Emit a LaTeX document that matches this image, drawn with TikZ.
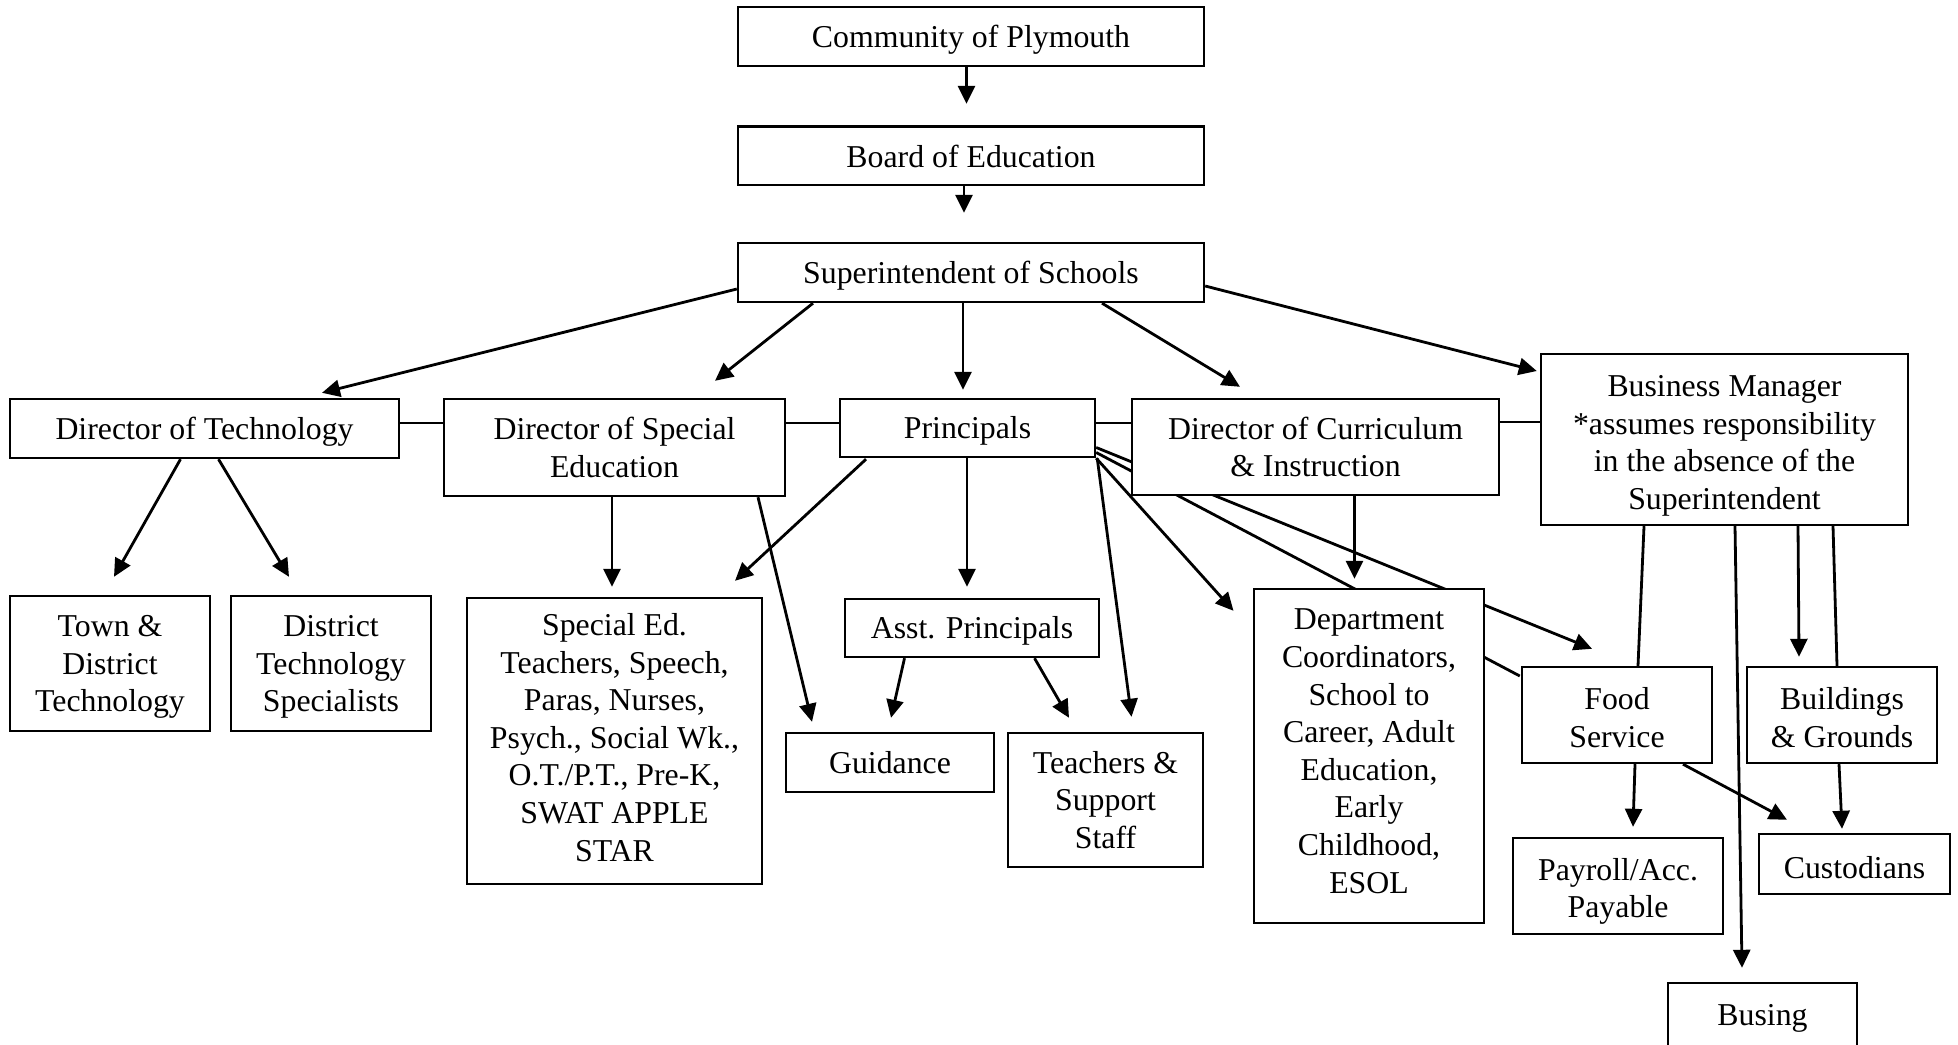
\documentclass[tikz,border=0pt]{standalone}
\usepackage{fontspec}
\setmainfont{Liberation Serif}
\usetikzlibrary{arrows.meta}
\pgfdeclarelayer{bg}
\pgfsetlayers{bg,main}
\newcommand{\hpad}[1]{\rule{0pt}{#1}}
\newcommand{\dpad}[1]{\rule[-#1]{0pt}{#1}}
\tikzset{
  bx/.style={draw, line width=1.2pt, fill=white, inner sep=0pt, align=center,
    font=\fontsize{15.9pt}{18.8pt}\selectfont},
  ln/.style={line width=1.4pt},
  arr/.style={line width=1.4pt, -{Triangle[length=9pt,width=8.5pt]}}
}
\begin{document}
\begin{tikzpicture}[x=0.5pt,y=-0.5pt]
\useasboundingbox (0,0) rectangle (1958,1044);
% nodes
\node[bx, minimum width=233pt, minimum height=29.5pt] (comm) at (971,36.5) {\smash{Community of Plymouth}\hpad{10.9pt}};
\node[bx, minimum width=233pt, minimum height=29.25pt] (board) at (971,155.75) {\hpad{12pt}Board of Education};
\node[bx, minimum width=233pt, minimum height=29.5pt] (sup) at (971,272.5) {\smash{Superintendent of Schools}\hpad{10.9pt}};
\node[bx, minimum width=194.5pt, minimum height=29.5pt] (dtech) at (204.5,428.5) {\smash{Director of Technology}\hpad{10.9pt}};
\node[bx, minimum width=170.5pt, minimum height=48.5pt] (dsped) at (614.5,447.5) {Director of Special\\Education};
\node[bx, minimum width=127.5pt, minimum height=29pt] (prin) at (967.5,428) {\smash{Principals}\hpad{10.9pt}};
\node[bx, minimum width=183.5pt, minimum height=48pt] (dcurr) at (1315.5,447) {Director of Curriculum\\\& Instruction};
\node[bx, minimum width=183.5pt, minimum height=85.5pt] (bus) at (1724.5,439.5) {\hpad{13.6pt}Business Manager\\*assumes responsibility\\in the absence of the\\\smash{Superintendent}};
\node[bx, minimum width=100pt, minimum height=67.5pt] (town) at (110,663.5) {Town \&\\District\\\smash{Technology}};
\node[bx, minimum width=100pt, minimum height=67.5pt] (dist) at (331,663.5) {District\\Technology\\\smash{Specialists}};
\node[bx, minimum width=147.5pt, minimum height=143pt] (sped) at (614.5,741) {Special Ed.\\Teachers, Speech,\\Paras, Nurses,\\Psych., Social Wk.,\\O.T./P.T., Pre-K,\\SWAT APPLE\\STAR\dpad{3.8pt}};
\node[bx, minimum width=127pt, minimum height=29pt] (asst) at (972,628) {\smash{Asst. Principals}\hpad{10.9pt}};
\node[bx, minimum width=104pt, minimum height=29.5pt] (guid) at (890,762.5) {Guidance};
\node[bx, minimum width=97.5pt, minimum height=67pt] (teach) at (1105.5,800) {Teachers \&\\Support\\Staff};
\node[bx, minimum width=115pt, minimum height=167pt] (dept) at (1369,756) {Department\\Coordinators,\\School to\\Career, Adult\\Education,\\Early\\Childhood,\\ESOL\dpad{5pt}};
\node[bx, minimum width=95pt, minimum height=48pt] (food) at (1617,715) {\hpad{13.4pt}Food\\Service};
\node[bx, minimum width=95pt, minimum height=48pt] (bldg) at (1842,715) {\hpad{13.4pt}Buildings\\\& Grounds};
\node[bx, minimum width=105pt, minimum height=48pt] (pay) at (1618,886) {\hpad{12.9pt}Payroll/Acc.\\\smash{Payable}};
\node[bx, minimum width=95.5pt, minimum height=30pt] (cust) at (1854.5,864) {\hpad{14.6pt}Custodians};
\node[bx, minimum width=94.5pt, minimum height=32pt] (busing) at (1762.5,1015) {\smash{Busing}\hpad{10.9pt}};
% connectors
\begin{pgfonlayer}{bg}
\draw[arr] ([shift={(-4.5,0)}]comm.south) -- ([shift={(-4.5,-21.5)}]board.north);
\draw[arr] ([shift={(-7,0)}]board.south) -- ([shift={(-7,-29)}]sup.north);
\draw[arr] ([shift={(0,16.5)}]sup.west) -- ([shift={(117.5,-5)}]dtech.north);
\draw[arr] ([shift={(-158,0)}]sup.south) -- ([shift={(100.5,-17)}]dsped.north);
\draw[arr] ([shift={(-8,0)}]sup.south) -- ([shift={(-4.5,-8)}]prin.north);
\draw[arr] ([shift={(131,0)}]sup.south) -- ([shift={(-75.5,-11)}]dcurr.north);
\draw[arr] ([shift={(0,13.5)}]sup.east) -- ([shift={(-3,-68.5)}]bus.west);
\draw[ln] ([shift={(0,-5.5)}]dtech.east) -- ([shift={(0,-24.5)}]dsped.west);
\draw[ln] ([shift={(0,-24.5)}]dsped.east) -- ([shift={(0,-5)}]prin.west);
\draw[ln] ([shift={(0,-5)}]prin.east) -- ([shift={(0,-24)}]dcurr.west);
\draw[ln] ([shift={(0,-25)}]dcurr.east) -- ([shift={(0,-17.5)}]bus.west);
\draw[arr] ([shift={(-24,0)}]dtech.south) -- ([shift={(4,-18)}]town.north);
\draw[arr] ([shift={(14,0)}]dtech.south) -- ([shift={(-42,-18)}]dist.north);
\draw[arr] ([shift={(-2.5,0)}]dsped.south) -- ([shift={(-2.5,-10)}]sped.north);
\draw[arr] ([shift={(143.5,0)}]dsped.south) -- ([shift={(-78,-10)}]guid.north);
\draw[arr] ([shift={(-101.5,1)}]prin.south) -- ([shift={(120.5,-16)}]sped.north);
\draw[arr] ([shift={(-0.5,0)}]prin.south) -- ([shift={(-5,-11)}]asst.north);
\draw[arr] ([shift={(-67.5,0)}]asst.south) -- ([shift={(1,-14)}]guid.north);
\draw[arr] ([shift={(62.5,0)}]asst.south) -- ([shift={(-36.5,-14)}]teach.north);
\draw[arr] ([shift={(1,0)}]prin.south east) -- ([shift={(26,-15)}]teach.north);
\draw[arr] (prin.south east) -- ([shift={(-135.5,23)}]dept.north);
\draw[arr] ([shift={(0,19.5)}]prin.east) -- ([shift={(-25,-17)}]food.north);
\draw[ln] ([shift={(0,24.5)}]prin.east) -- ([shift={(-1,-39)}]food.west);
\draw[arr] ([shift={(39,0)}]dcurr.south) -- ([shift={(-14.5,-9)}]dept.north);
\draw[ln] ([shift={(-80.5,0)}]bus.south) -- ([shift={(21,0)}]food.north);
\draw[arr] ([shift={(10.5,0)}]bus.south) -- ([shift={(-20.5,-14)}]busing.north);
\draw[arr] ([shift={(73.5,0)}]bus.south) -- ([shift={(-43,-9)}]bldg.north);
\draw[ln] ([shift={(108.5,0)}]bus.south) -- ([shift={(-5,0)}]bldg.north);
\draw[arr] ([shift={(18,0)}]food.south) -- ([shift={(15,-10)}]pay.north);
\draw[arr] ([shift={(66,0)}]food.south) -- ([shift={(-67.5,-13)}]cust.north);
\draw[arr] ([shift={(-3,0)}]bldg.south) -- ([shift={(-12.5,-4)}]cust.north);
\end{pgfonlayer}
\end{tikzpicture}
\end{document}
